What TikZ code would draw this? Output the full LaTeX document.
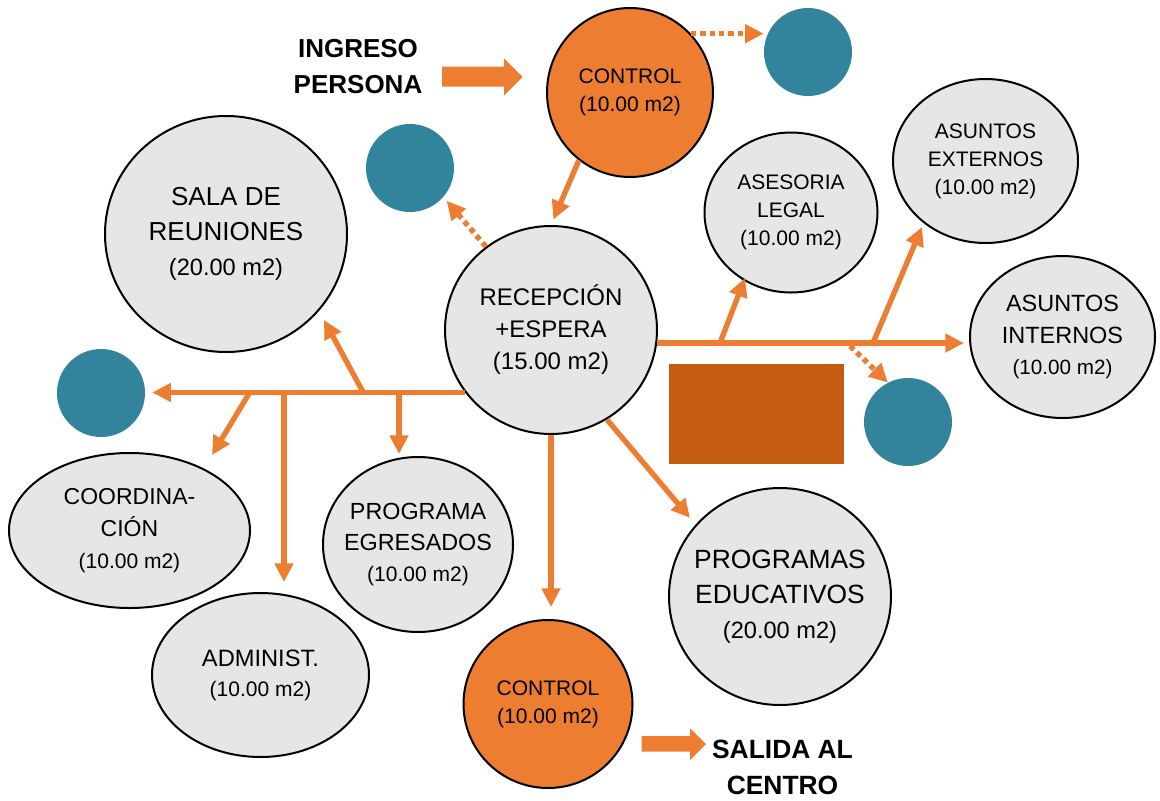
\documentclass[tikz,border=0pt]{standalone}
\usepackage{fontspec}
\setmainfont{Liberation Sans}
\usetikzlibrary{shapes.geometric,arrows.meta,calc}
\definecolor{orng}{HTML}{ED7D31}
\definecolor{tealc}{HTML}{31849B}
\definecolor{rust}{HTML}{C55A11}
\definecolor{roomgray}{HTML}{E6E6E6}
\newcommand\fz[2]{\fontsize{#1}{#2}\selectfont}
\newcommand\fsz[1]{\fontsize{#1}{#1}\selectfont}
\begin{document}
\begin{tikzpicture}[x=0.75pt,y=-0.75pt,
  room/.style={ellipse, draw=black, line width=1.5pt, fill=roomgray, inner xsep=-30pt, inner ysep=-20pt, align=center, text=black},
  ctrl/.style={room, fill=orng},
  tealdot/.style={circle, fill=tealc, minimum size=66pt, inner sep=0pt},
  conn/.style={draw=orng, line width=4pt, -{Triangle[length=14pt,width=13.5pt]}},
  dotconn/.style={conn, dash pattern=on 4pt off 3pt},
  bigtext/.style={font=\bfseries\fz{19.5}{26.5}, align=center, text=black}
]
\useasboundingbox (0,0) rectangle (1160,800);

% rooms
\node[room, minimum width=181.5pt, minimum height=177pt, font=\fz{19.5}{26}] (sala) at (226,234) {SALA DE\\REUNIONES\\\fsz{17.7}(20.00 m2)};
\node[room, minimum width=159pt, minimum height=156pt, font=\fz{18}{24}] (recep) at (551,330) {RECEPCIÓN\\+ESPERA\\(15.00 m2)};
\node[ctrl, minimum width=124.5pt, minimum height=126.75pt, font=\fz{15.75}{21}] (ctrlA) at (630,92.5) {CONTROL\\(10.00 m2)};
\node[ctrl, minimum width=126.75pt, minimum height=126pt, font=\fz{15.75}{21}] (ctrlB) at (548,704) {CONTROL\\(10.00 m2)};
\node[room, minimum width=129.75pt, minimum height=120pt, font=\fz{15.75}{21}] (asesoria) at (791,212.5) {ASESORIA\\LEGAL\\(10.00 m2)};
\node[room, minimum width=138.75pt, minimum height=123pt, font=\fz{15.75}{21}] (externos) at (985.5,161) {ASUNTOS\\EXTERNOS\\(10.00 m2)};
\node[room, minimum width=138.75pt, minimum height=121.5pt, font=\fz{17.6}{23.5}] (internos) at (1062.5,337) {ASUNTOS\\INTERNOS\\\fsz{15.5}(10.00 m2)};
\node[room, minimum width=166.5pt, minimum height=162.75pt, font=\fz{19.8}{26.25}] (educ) at (780,596.5) {PROGRAMAS\\EDUCATIVOS\\\fsz{17.7}(20.00 m2)};
\node[room, minimum width=142.5pt, minimum height=131.25pt, font=\fz{17.5}{23.25}] (egres) at (418,544.5) {PROGRAMA\\EGRESADOS\\\fsz{15.75}(10.00 m2)};
\node[room, minimum width=180.75pt, minimum height=116.25pt, font=\fz{17.25}{24}] (coord) at (129.5,530.5) {COORDINA-\\CIÓN\\\fsz{15.75}(10.00 m2)};
\node[room, minimum width=162.75pt, minimum height=123pt, font=\fz{17.75}{22.5}] (admin) at (260.5,675) {ADMINIST.\\\fsz{15.75}(10.00 m2)};

% teal circles and block
\node[tealdot] (t1) at (808,52) {};
\node[tealdot] (t2) at (410,168) {};
\node[tealdot] (t3) at (101,393) {};
\node[tealdot] (t4) at (908,422) {};
\node[fill=rust, minimum width=131.25pt, minimum height=75pt, inner sep=0pt] (block) at (756.5,414) {};

% texts
\node[bigtext] (ingreso) at (358,66.5) {INGRESO\\PERSONA};
\node[bigtext, font=\bfseries\fz{19.8}{26.5}] (salida) at (782.5,767.5) {SALIDA AL\\CENTRO};

% block arrows
\fill[orng] (442,66.7) -- (504,66.7) -- (504,58.3) -- (522.7,77) -- (504,95.7) -- (504,86.7) -- (442,86.7) -- cycle;
\fill[orng] (641.7,736) -- (690,736) -- (690,728.3) -- (706,744) -- (690,760) -- (690,751.7) -- (641.7,751.7) -- cycle;

% junctions
\coordinate (jA) at (250,392);
\coordinate (jB) at (284,392);
\coordinate (jC) at (399,392);
\coordinate (jD) at (363,392);
\coordinate (jE) at (720,343);
\coordinate (jF) at (873,343);
\coordinate (jG) at (850,346);

% connectors
\draw[conn, shorten >=4.5pt] (ctrlA.233) -- (recep.north);
\draw[dotconn] (ctrlA.44) -- (ctrlA.44 -| t1.west);
\draw[dotconn, shorten >=3.75pt] (recep.128) -- (t2.-41);
\draw[conn, shorten >=5.25pt] (recep.216) -- (recep.216 -| t3.east);
\draw[conn] (jA) -- ($(coord.center)+(82.5,-75.5)$);
\draw[conn, shorten >=7.5pt] (jB) -- (jB |- admin.north);
\draw[conn, shorten >=1.5pt] (jC) -- (jC |- egres.north);
\draw[conn] (jD) -- ($(sala.center)+(98,86)$);
\draw[conn, shorten >=3.75pt] (recep.-7) -- (recep.-7 -| internos.west);
\draw[conn] (jE) -- ($(asesoria.center)+(-46,65.5)$);
\draw[conn] (jF) -- ($(externos.center)+(-63.5,66)$);
\draw[dotconn] (jG) -- (t4.117);
\draw[conn, shorten >=9pt] (recep.south) -- (recep.south |- ctrlB.north);
\draw[conn] (recep.-58) -- ($(educ.center)+(-90,-78.5)$);
\end{tikzpicture}
\end{document}
